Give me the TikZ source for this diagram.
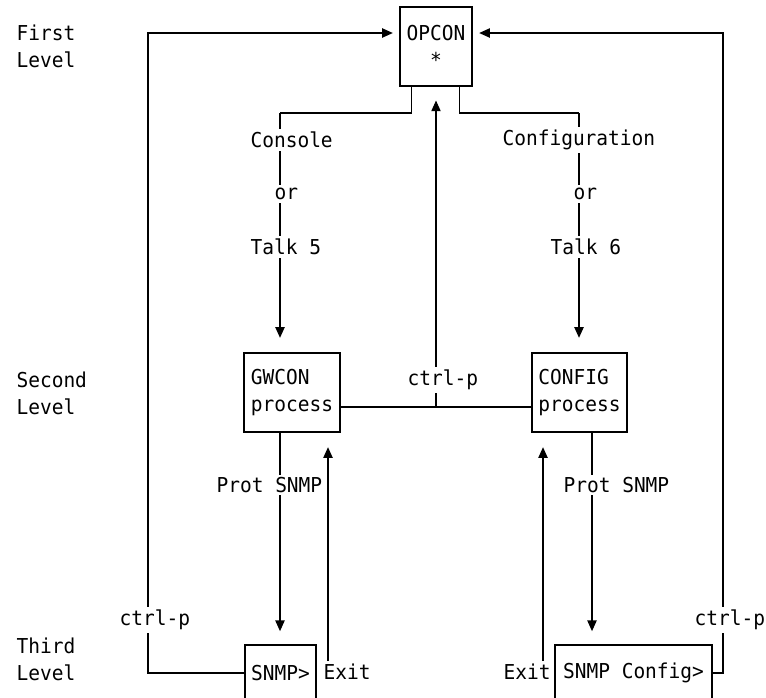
\documentclass[tikz,border=0pt]{standalone}
\usepackage{fontspec}
\setmonofont[FakeStretch=0.95]{DejaVu Sans Mono}
\usetikzlibrary{arrows.meta}

\begin{document}
\begin{tikzpicture}[x=0.75pt, y=-0.75pt,
    font=\ttfamily\fontsize{15.4}{20.25}\selectfont,
    line width=0.8pt,
    box/.style={draw=black, rectangle, inner sep=0pt},
    lbl/.style={fill=white, inner xsep=0pt, inner ysep=2pt, anchor=west},
    arr/.style={-{Triangle[length=8pt, width=7pt]}}]

    \useasboundingbox (0,0) rectangle (766,697);

    % level names
    \node[anchor=west, align=left, inner sep=0pt] (first) at (16,46.5) {First\\Level};
    \node[anchor=west, align=left, inner sep=0pt] (second) at (16,393.5) {Second\\Level};
    \node[anchor=west, align=left, inner sep=0pt] (third) at (16,659.5) {Third\\Level};

    % boxes
    \node[box, minimum width=54pt, minimum height=59.25pt, align=center] (opcon) at (436,46.5) {OPCON\\*};
    \node[box, minimum width=72pt, minimum height=59.25pt, align=left] (gwcon) at (292,392.5) {GWCON\\process};
    \node[box, minimum width=71.25pt, minimum height=59.25pt, align=left] (config) at (579.5,392.5) {CONFIG\\process};
    \node[box, minimum width=53.25pt, minimum height=42pt] (snmp) at (280.5,673) {SNMP>};
    \node[box, minimum width=117.75pt, minimum height=42pt] (snmpcfg) at (633.5,673) {SNMP Config>};

    \coordinate (bl) at (280,113);
    \coordinate (br) at (579,113);
    \coordinate (cr) at (592,0);
    \coordinate (mid) at (436,407);
    \coordinate (xl) at (328,0);
    \coordinate (xr) at (543,0);
    \coordinate (ll) at (148,33);
    \coordinate (lr) at (723,33);

    % first to second level
    \draw ([xshift=9pt]opcon.south west) |- (bl);
    \draw[arr, shorten >=11pt] (bl) -- (bl |- gwcon.north);
    \draw ([xshift=-9.75pt]opcon.south east) |- (br);
    \draw[arr, shorten >=11pt] (br) -- (br |- config.north);

    % back up to first level
    \draw (gwcon.east |- mid) -- (config.west |- mid);
    \draw[arr, shorten >=10.5pt] (mid) -- (opcon.south);

    % second to third level
    \draw[arr, shorten >=10pt] (gwcon.south -| bl) -- (snmp.north -| bl);
    \draw[arr, shorten >=10pt] (config.south -| cr) -- (snmpcfg.north -| cr);

    % labels on the lines
    \node[lbl] (console) at (250,140) {Console};
    \node[lbl] (orl) at (274,194) {or};
    \node[lbl] (talkfive) at (250,247) {Talk 5};
    \node[lbl] (configuration) at (502,140) {Configuration};
    \node[lbl] (orr) at (573,194) {or};
    \node[lbl] (talksix) at (550,247) {Talk 6};
    \node[lbl] (ctrlpm) at (407,380) {ctrl-p};
    \node[lbl] (protl) at (216,485) {Prot SNMP};
    \node[lbl] (protr) at (563,485) {Prot SNMP};
    \node[lbl] (exitl) at (323,672) {Exit};
    \node[lbl] (exitr) at (503,672) {Exit};

    % exit
    \draw[arr, shorten >=11pt] (exitl.north -| xl) -- (gwcon.south -| xl);
    \draw[arr, shorten >=11pt] (exitr.north -| xr) -- (config.south -| xr);

    % ctrl-p loops
    \draw[arr, shorten >=5pt] (snmp.west) -| (ll) -- (opcon.west |- ll);
    \draw[arr, shorten >=5pt] (snmpcfg.east) -| (lr) -- (opcon.east |- lr);
    \node[lbl] (ctrlpl) at (119,620) {ctrl-p};
    \node[lbl] (ctrlpr) at (694,620) {ctrl-p};
\end{tikzpicture}
\end{document}
